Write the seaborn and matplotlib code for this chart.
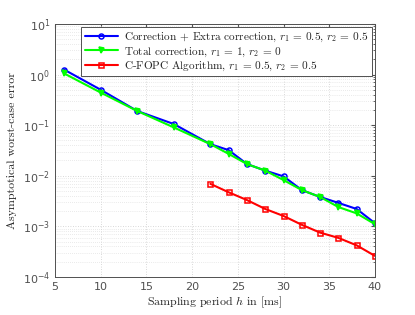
import numpy as np
import pandas as pd
import matplotlib
matplotlib.use("Agg")
import matplotlib.pyplot as plt
import seaborn as sns
from matplotlib.font_manager import FontProperties
from matplotlib.ticker import LogLocator

# ==================================================
# DATA
# ==================================================

h_full = [6, 10, 14, 18, 22, 24, 26, 28, 30, 32, 34, 36, 38, 40]
h_fopc = [22, 24, 26, 28, 30, 32, 34, 36, 38, 40]

err_extra = [1.25, 0.50, 0.19, 0.105, 0.042, 0.032, 0.017, 0.0126,
             0.0097, 0.0052, 0.0038, 0.0029, 0.0022, 0.00115]
err_total = [1.05, 0.44, 0.19, 0.090, 0.042, 0.027, 0.017, 0.0126,
             0.0082, 0.0052, 0.0038, 0.0024, 0.0018, 0.0011]
err_fopc = [0.0069, 0.0047, 0.0033, 0.0022, 0.0016, 0.00107,
            0.00075, 0.00059, 0.00042, 0.00026]

labels = [
    "Correction + Extra correction, $r_1$ = 0.5, $r_2$ = 0.5",
    "Total correction, $r_1$ = 1, $r_2$ = 0",
    "C-FOPC Algorithm, $r_1$ = 0.5, $r_2$ = 0.5",
]

# ==================================================
# PLOT
# ==================================================

sns.set_style("white")
plt.rcParams["mathtext.fontset"] = "dejavusans"

fig = plt.figure(figsize=(4.15, 3.15), dpi=100)
ax = fig.add_axes([0.1325, 0.121, 0.771, 0.803])

serif = FontProperties(family="cmr10", size=8.1, math_fontfamily="cm")
serif_lab = FontProperties(family="cmr10", size=8.6, math_fontfamily="cm")

series = [
    (h_full, err_extra, "#0000ff", "o", labels[0]),
    (h_full, err_total, "#00ff00", "v", labels[1]),
    (h_fopc, err_fopc, "#ff0000", "s", labels[2]),
]

for x, y, c, m, lab in series:
    sns.lineplot(
        x=x,
        y=y,
        color=c,
        marker=m,
        markersize=3.6,
        markerfacecolor="none" if m != "v" else c,
        markeredgecolor=c,
        markeredgewidth=1.1,
        linewidth=1.5,
        label=lab,
        ax=ax,
    )

ax.set_yscale("log")
ax.set_xlim(5, 40)
ax.set_ylim(1e-4, 10)
ax.set_xticks(range(5, 41, 5))
ax.yaxis.set_major_locator(LogLocator(base=10, numticks=10))
ax.yaxis.set_minor_locator(LogLocator(base=10, subs=np.arange(2, 10), numticks=20))

ax.grid(True, which="major", color="#cccccc", linestyle=(0, (1, 2)), linewidth=0.6)
ax.grid(True, which="minor", axis="y", color="#d6d6d6", linestyle=(0, (1, 2)), linewidth=0.5)

ax.tick_params(axis="both", which="both", direction="in", top=True, right=True,
               labelsize=8, labelcolor="#505050", colors="#505050", length=3)
ax.tick_params(which="minor", length=1.5)

for sp in ax.spines.values():
    sp.set_color("#505050")
    sp.set_linewidth(0.7)

ax.set_xlabel("Sampling period $h$ in [ms]", fontproperties=serif_lab, labelpad=2)
ax.set_ylabel("Asymptotical worst-case error", fontproperties=serif_lab, labelpad=4)

leg = ax.legend(loc="upper right", prop=serif, frameon=True, fancybox=False,
                edgecolor="#505050", framealpha=1, borderaxespad=0.3,
                handlelength=3.0, handletextpad=0.5, labelspacing=0.1,
                borderpad=0.3)
leg.get_frame().set_linewidth(0.7)

fig.savefig("out.png", dpi=100)
